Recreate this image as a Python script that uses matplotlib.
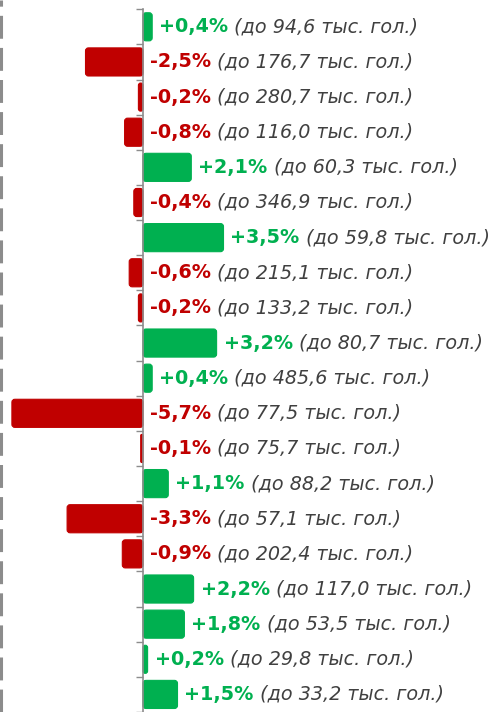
import matplotlib
matplotlib.use("Agg")
import matplotlib.pyplot as plt
from matplotlib.patches import FancyBboxPatch

changes = [0.4, -2.5, -0.2, -0.8, 2.1, -0.4, 3.5, -0.6, -0.2, 3.2,
           0.4, -5.7, -0.1, 1.1, -3.3, -0.9, 2.2, 1.8, 0.2, 1.5]
herd = ["94,6", "176,7", "280,7", "116,0", "60,3", "346,9", "59,8", "215,1",
        "133,2", "80,7", "485,6", "77,5", "75,7", "88,2", "57,1", "202,4",
        "117,0", "53,5", "29,8", "33,2"]

GREEN = "#00B050"
RED = "#C00000"
GRAY_TXT = "#404040"
AXIS_GRAY = "#8C8C8C"

W, H = 494, 712
fig = plt.figure(figsize=(W / 100, H / 100), dpi=100)
ax = fig.add_axes([0, 0, 1, 1])

px_per_unit = 23.0
zero_px = 143.0
row0_px = 27.0
row_step = 35.4
ax.set_xlim(-zero_px / px_per_unit, (W - zero_px) / px_per_unit)
ax.set_ylim((H - row0_px) / row_step, -row0_px / row_step)

n = len(changes)
ys = list(range(n))
colors = [GREEN if v >= 0 else RED for v in changes]
bars = ax.barh(ys, changes, height=0.8, color=colors, alpha=0)

rx = 3.0 / px_per_unit
ry = 3.0 / row_step
for b, c in zip(bars, colors):
    x0 = b.get_x()
    w = b.get_width()
    if w < 0:
        x0, w = x0 + w, -w
    rs = min(rx, w / 2)
    p = FancyBboxPatch((x0, b.get_y()), w, b.get_height(),
                       boxstyle=f"round,pad=0,rounding_size={rs}",
                       mutation_aspect=ry / rx,
                       facecolor=c, edgecolor=c, linewidth=0.8, zorder=2)
    ax.add_patch(p)

# axis styling
for s in ["top", "right", "bottom"]:
    ax.spines[s].set_visible(False)
ax.spines["left"].set_position(("data", 0))
ax.spines["left"].set_color(AXIS_GRAY)
ax.spines["left"].set_linewidth(1.2)
ax.spines["left"].set_bounds(-0.5, n)
ax.spines["left"].set_zorder(3)
ax.set_xticks([])
ax.set_yticks([i - 0.5 for i in range(n + 1)])
ax.set_yticklabels([])
ax.tick_params(axis="y", direction="out", length=5, width=1, color=AXIS_GRAY)

# left dashed line
ax.axvline(ax.get_xlim()[0] + 1.0 / px_per_unit, color="#8C8C8C",
           linewidth=2.2, linestyle=(0, (7.5, 3)), zorder=1)

FS = 13.8
gap = 7.0 / px_per_unit
for i, (v, h) in enumerate(zip(changes, herd)):
    xstart = max(v, 0) + gap
    pct = ("+" if v >= 0 else "") + f"{v:.1f}".replace(".", ",") + "%"
    t1 = ax.text(xstart, i, pct, ha="left", va="center",
                 fontsize=FS, fontweight="bold",
                 family="DejaVu Sans",
                 color=GREEN if v >= 0 else RED)
    ax.annotate(f" (до {h} тыс. гол.)", xy=(1, 0.5), xycoords=t1,
                ha="left", va="center", fontsize=FS, fontstyle="italic",
                family="DejaVu Sans", color=GRAY_TXT)

fig.savefig("out.png", dpi=100)
